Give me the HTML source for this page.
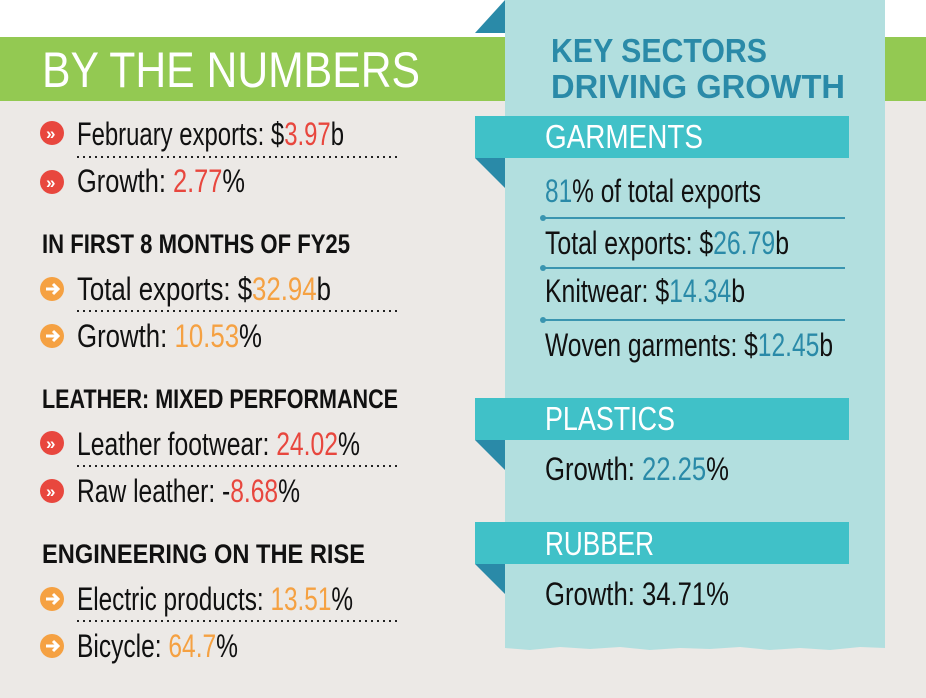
<!DOCTYPE html>
<html><head><meta charset="utf-8"><style>html,body{margin:0;padding:0;background:#ece9e6}svg{display:block}</style></head><body>
<svg width="926" height="698" viewBox="0 0 926 698" xmlns="http://www.w3.org/2000/svg" font-family="Liberation Sans Narrow, Liberation Sans, sans-serif">
<rect width="926" height="698" fill="#ece9e6"/>
<rect width="926" height="37" fill="#ffffff"/>
<rect y="37" width="926" height="64" fill="#93c952"/>
<polygon points="505,0 475,33 505,33" fill="#2a8aa8"/>
<path d="M505,0 H885 V648 L860,647 L830,650 L800,648 L770,650 L740,647 L710,649 L680,648 L650,650 L620,647 L590,649 L560,647 L530,650 L505,648 Z" fill="#b2dfdf"/>
<text x="42" y="87" font-size="50" fill="#fff" textLength="378" lengthAdjust="spacingAndGlyphs">BY THE NUMBERS</text>
<defs>
<g id="r"><circle r="12" fill="#e8473e"/><text x="-6" y="6" font-size="17" fill="#fff" font-weight="bold" font-family="Liberation Sans, sans-serif">»</text></g>
<g id="o"><circle r="12" fill="#f5a142"/><path d="M-6,0 H5 M1,-5 L6,0 L1,5" stroke="#fff" stroke-width="3" fill="none"/></g>
</defs>
<g font-size="32" fill="#111">
<use href="#r" x="52" y="133"/>
<text x="77" y="145" textLength="267" lengthAdjust="spacingAndGlyphs">February exports: $<tspan fill="#e8473e">3.97</tspan>b</text>
<line x1="77" y1="157" x2="398" y2="157" stroke="#222" stroke-width="2" stroke-dasharray="2,4"/>
<use href="#r" x="52" y="182"/>
<text x="77" y="192" textLength="168" lengthAdjust="spacingAndGlyphs">Growth: <tspan fill="#e8473e">2.77</tspan>%</text>
<text x="42" y="253" font-size="27" font-weight="bold" textLength="308" lengthAdjust="spacingAndGlyphs">IN FIRST 8 MONTHS OF FY25</text>
<use href="#o" x="52" y="289"/>
<text x="77" y="300" textLength="254" lengthAdjust="spacingAndGlyphs">Total exports: $<tspan fill="#f5a142">32.94</tspan>b</text>
<line x1="77" y1="311" x2="398" y2="311" stroke="#222" stroke-width="2" stroke-dasharray="2,4"/>
<use href="#o" x="52" y="336"/>
<text x="77" y="347" textLength="185" lengthAdjust="spacingAndGlyphs">Growth: <tspan fill="#f5a142">10.53</tspan>%</text>
<text x="42" y="408" font-size="27" font-weight="bold" textLength="356" lengthAdjust="spacingAndGlyphs">LEATHER: MIXED PERFORMANCE</text>
<use href="#r" x="52" y="443"/>
<text x="77" y="455" textLength="283" lengthAdjust="spacingAndGlyphs">Leather footwear: <tspan fill="#e8473e">24.02</tspan>%</text>
<line x1="77" y1="466" x2="398" y2="466" stroke="#222" stroke-width="2" stroke-dasharray="2,4"/>
<use href="#r" x="52" y="491"/>
<text x="77" y="502" textLength="223" lengthAdjust="spacingAndGlyphs">Raw leather: -<tspan fill="#e8473e">8.68</tspan>%</text>
<text x="42" y="563" font-size="27" font-weight="bold" textLength="323" lengthAdjust="spacingAndGlyphs">ENGINEERING ON THE RISE</text>
<use href="#o" x="52" y="599"/>
<text x="77" y="610" textLength="276" lengthAdjust="spacingAndGlyphs">Electric products: <tspan fill="#f5a142">13.51</tspan>%</text>
<line x1="77" y1="621" x2="398" y2="621" stroke="#222" stroke-width="2" stroke-dasharray="2,4"/>
<use href="#o" x="52" y="646"/>
<text x="77" y="657" textLength="161" lengthAdjust="spacingAndGlyphs">Bicycle: <tspan fill="#f5a142">64.7</tspan>%</text>
</g>
<g fill="#2a8aa8" font-weight="bold" font-size="33" font-family="Liberation Sans, sans-serif">
<text x="551" y="62" textLength="216" lengthAdjust="spacingAndGlyphs">KEY SECTORS</text>
<text x="551" y="98" textLength="294" lengthAdjust="spacingAndGlyphs">DRIVING GROWTH</text>
</g>
<g>
<rect x="475" y="116" width="374" height="42" fill="#40c1c8"/><polygon points="475,158 505,158 505,188" fill="#2a8aa8"/>
<rect x="475" y="398" width="374" height="42" fill="#40c1c8"/><polygon points="475,440 505,440 505,470" fill="#2a8aa8"/>
<rect x="475" y="522" width="374" height="42" fill="#40c1c8"/><polygon points="475,564 505,564 505,594" fill="#2a8aa8"/>
</g>
<g fill="#fff" font-size="33" font-family="Liberation Sans, sans-serif">
<text x="545" y="148" textLength="158" lengthAdjust="spacingAndGlyphs">GARMENTS</text>
<text x="545" y="430" textLength="130" lengthAdjust="spacingAndGlyphs">PLASTICS</text>
<text x="545" y="555" textLength="109" lengthAdjust="spacingAndGlyphs">RUBBER</text>
</g>
<g font-size="32" fill="#111">
<text x="545" y="202" textLength="216" lengthAdjust="spacingAndGlyphs"><tspan fill="#2a8aa8">81</tspan>% of total exports</text>
<line x1="543" y1="218" x2="845" y2="218" stroke="#3a95b0" stroke-width="2"/><circle cx="543" cy="218" r="3" fill="#3a95b0"/>
<text x="545" y="254" textLength="244" lengthAdjust="spacingAndGlyphs">Total exports: $<tspan fill="#2a8aa8">26.79</tspan>b</text>
<line x1="543" y1="268" x2="845" y2="268" stroke="#3a95b0" stroke-width="2"/><circle cx="543" cy="268" r="3" fill="#3a95b0"/>
<text x="545" y="302" textLength="200" lengthAdjust="spacingAndGlyphs">Knitwear: $<tspan fill="#2a8aa8">14.34</tspan>b</text>
<line x1="543" y1="320" x2="845" y2="320" stroke="#3a95b0" stroke-width="2"/><circle cx="543" cy="320" r="3" fill="#3a95b0"/>
<text x="545" y="356" textLength="288" lengthAdjust="spacingAndGlyphs">Woven garments: $<tspan fill="#2a8aa8">12.45</tspan>b</text>
<text x="545" y="480" textLength="184" lengthAdjust="spacingAndGlyphs">Growth: <tspan fill="#2a8aa8">22.25</tspan>%</text>
<text x="545" y="605" textLength="184" lengthAdjust="spacingAndGlyphs">Growth: 34.71%</text>
</g>
</svg>
</body></html>
